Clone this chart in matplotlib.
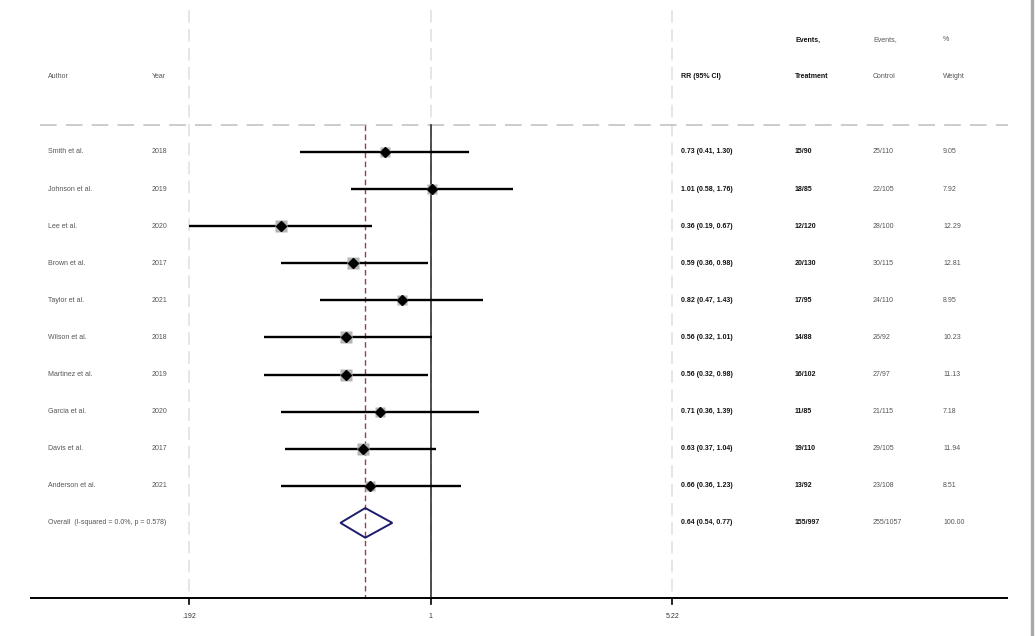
import numpy as np
import matplotlib
matplotlib.use("Agg")
import matplotlib.pyplot as plt
from matplotlib.transforms import blended_transform_factory
from matplotlib.patches import Polygon
from matplotlib.lines import Line2D

# ---------------- data ----------------
authors = ["Smith et al.", "Johnson et al.", "Lee et al.", "Brown et al.", "Taylor et al.",
           "Wilson et al.", "Martinez et al.", "Garcia et al.", "Davis et al.", "Anderson et al."]
years = ["2018", "2019", "2020", "2017", "2021", "2018", "2019", "2020", "2017", "2021"]
rr = [0.73, 1.01, 0.36, 0.59, 0.82, 0.56, 0.56, 0.71, 0.63, 0.66]
ci_low = [0.41, 0.58, 0.19, 0.36, 0.47, 0.32, 0.32, 0.36, 0.37, 0.36]
ci_high = [1.30, 1.76, 0.67, 0.98, 1.43, 1.01, 0.98, 1.39, 1.04, 1.23]
events_treat = ["15/90", "18/85", "12/120", "20/130", "17/95", "14/88", "16/102", "11/85", "19/110", "13/92"]
events_ctrl = ["25/110", "22/105", "28/100", "30/115", "24/110", "26/92", "27/97", "21/115", "29/105", "23/108"]
weights = [9.05, 7.92, 12.29, 12.81, 8.95, 10.23, 11.13, 7.18, 11.94, 8.51]

overall_label = "Overall  (I-squared = 0.0%, p = 0.578)"
overall_rr, overall_low, overall_high = 0.64, 0.54, 0.77
overall_treat, overall_ctrl, overall_weight = "155/997", "255/1057", "100.00"

xticks = [0.192, 1, 5.22]
xtick_labels = [".192", "1", "5.22"]

# ---------------- layout ----------------
W, H = 1035, 636
fig = plt.figure(figsize=(W / 100, H / 100), dpi=100)
fig.patch.set_facecolor("white")
ax = fig.add_axes([0, 0, 1, 1])
ax.set_xscale("log")
ax.set_xlim(0.0527, 62.3)
ax.set_ylim(13.05, -4.097)
ax.axis("off")

FONT = "Liberation Sans"
FS = 5.0
trans = blended_transform_factory(fig.transFigure, ax.transData)

def fx(px):
    return px / W

def row(py):
    return (py - 152) / 37.1

axis_row = row(598)
top_row = row(125)
n = len(authors)
rows = np.arange(n)
overall_row = n

# vertical light dashed gridlines at ticks
for t in xticks:
    ax.plot([t, t], [row(10), axis_row], color="#e4e4e4", lw=1.3,
            dashes=(7, 3.5), zorder=0)

# horizontal dashed separator
ax.plot([fx(40), fx(1008)], [top_row, top_row], transform=trans, color="#c4c4c4",
        lw=1.2, dashes=(10, 5.5), zorder=1)

# null line
ax.plot([1, 1], [top_row, axis_row], color="#222222", lw=1.1, zorder=2)

# overall effect line
ax.plot([overall_rr, overall_rr], [top_row, axis_row], color="#8a4455", lw=1.0,
        dashes=(4, 2.5), zorder=2)

# study CIs, weight squares, point estimates
xmin_clip, xmax_clip = xticks[0], xticks[-1]
for i in range(n):
    lo = max(ci_low[i], xmin_clip)
    hi = min(ci_high[i], xmax_clip)
    ax.plot([lo, hi], [rows[i], rows[i]], color="black", lw=1.7, zorder=3,
            solid_capstyle="butt")
    ax.plot([rr[i]], [rows[i]], marker="s", ms=2.55 * np.sqrt(weights[i]),
            color="#b4b4b4", mec="none", zorder=4, linestyle="none")
    ax.plot([rr[i]], [rows[i]], marker="D", ms=5.0, color="black", zorder=5,
            linestyle="none")

# overall diamond
h = 0.40
diamond = Polygon([(overall_low, overall_row), (overall_rr, overall_row - h),
                   (overall_high, overall_row), (overall_rr, overall_row + h)],
                  closed=True, facecolor="none", edgecolor="#1c1c6b", lw=1.4, zorder=5)
ax.add_patch(diamond)

# axis line & ticks
ax.plot([fx(30), fx(1008)], [axis_row, axis_row], transform=trans, color="black",
        lw=1.4, zorder=3, solid_capstyle="butt")
for t, lab in zip(xticks, xtick_labels):
    ax.plot([t, t], [axis_row, axis_row + 0.17], color="black", lw=1.2, zorder=3)
    ax.text(t, row(617), lab, ha="center", va="center", fontsize=FS,
            family=FONT, color="#333333")

# ---------------- text columns ----------------
col_author, col_year, col_rr, col_t, col_c, col_w = fx(48), fx(152), fx(681), fx(795), fx(873), fx(943)
gray = "#555555"
dark = "#111111"

def put(x, y, s, color=gray, bold=False):
    ax.text(x, y, s, transform=trans, ha="left", va="center", fontsize=FS,
            family=FONT, color=color, fontweight="bold" if bold else "normal")

hdr1, hdr2 = row(40), row(77)
put(col_author, hdr2, "Author")
put(col_year, hdr2, "Year")
put(col_rr, hdr2, "RR (95% CI)", dark, True)
put(col_t, hdr1, "Events,", dark, True)
put(col_t, hdr2, "Treatment", dark, True)
put(col_c, hdr1, "Events,")
put(col_c, hdr2, "Control")
put(col_w, hdr1, "%")
put(col_w, hdr2, "Weight")

for i in range(n):
    put(col_author, rows[i], authors[i])
    put(col_year, rows[i], years[i])
    put(col_rr, rows[i], f"{rr[i]:.2f} ({ci_low[i]:.2f}, {ci_high[i]:.2f})", dark, True)
    put(col_t, rows[i], events_treat[i], dark, True)
    put(col_c, rows[i], events_ctrl[i])
    put(col_w, rows[i], f"{weights[i]:.2f}")

put(col_author, overall_row, overall_label)
put(col_rr, overall_row, f"{overall_rr:.2f} ({overall_low:.2f}, {overall_high:.2f})", dark, True)
put(col_t, overall_row, overall_treat, dark, True)
put(col_c, overall_row, overall_ctrl)
put(col_w, overall_row, overall_weight)

# right-edge gray border
fig.add_artist(Line2D([1031.5 / W, 1031.5 / W], [0, 1], transform=fig.transFigure,
                      color="#a8a8a8", lw=2.4))

fig.savefig("out.png", dpi=100)
